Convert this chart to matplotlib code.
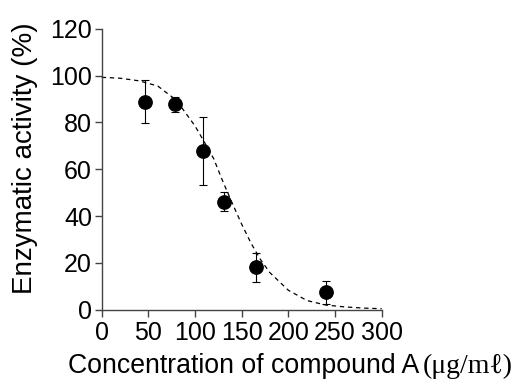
"""
Dose-response plot: enzymatic activity vs. concentration of compound A
"""
import matplotlib
matplotlib.use('Agg')
import matplotlib.pyplot as plt

# measured points (mean +/- error)
conc = [46, 79, 108, 131, 165, 240]
activity = [88.8, 87.8, 67.8, 46.2, 18.1, 7.4]
error = [9.2, 3.2, 14.5, 4.1, 6.1, 4.8]

# fitted curve
fit_conc = [0, 20, 40, 60, 80, 100, 110, 120, 130, 140, 150, 160, 170,
            180, 200, 220, 240, 260, 280, 300]
fit_activity = [99.3, 98.9, 97.8, 95.6, 89.5, 78.5, 71.6, 64.5, 54.6, 45.4,
                36.5, 28.4, 21.5, 15.9, 8.3, 3.9, 2.0, 1.2, 0.7, 0.4]

x_ticks = [0, 50, 100, 150, 200, 250, 300]
y_ticks = [0, 20, 40, 60, 80, 100, 120]

tick_font = ['Liberation Sans Narrow', 'Liberation Sans', 'DejaVu Sans']
label_font = ['Liberation Sans', 'DejaVu Sans']
unit_font = ['Liberation Serif', 'DejaVu Serif']

fig = plt.figure(figsize=(5.15, 3.8), dpi=100)
ax = fig.add_axes([0.1975, 0.185, 0.5437, 0.739])

ax.plot(fit_conc, fit_activity, color='black', lw=0.9,
        linestyle=(0, (3.5, 3)), clip_on=False)
ax.errorbar(conc, activity, yerr=error, fmt='o', color='black',
            markersize=9.6, elinewidth=0.8, capsize=3.2, capthick=0.8,
            clip_on=False, zorder=3)

ax.set_xlim(0, 300)
ax.set_ylim(0, 120)
ax.set_xticks(x_ticks)
ax.set_yticks(y_ticks)
for side in ['top', 'right']:
    ax.spines[side].set_visible(False)
for side in ['left', 'bottom']:
    ax.spines[side].set_color('#444444')
    ax.spines[side].set_linewidth(1.0)
ax.tick_params(axis='both', direction='out', length=5, width=1.0,
               color='#444444')
ax.tick_params(axis='y', pad=2)
ax.tick_params(axis='x', pad=3)
for lbl in ax.get_xticklabels() + ax.get_yticklabels():
    lbl.set_family(tick_font)
    lbl.set_fontsize(18)

fig.text(0.0485, 0.584, 'Enzymatic activity (%)', rotation=90,
         ha='center', va='center', fontsize=20, family=label_font)
fig.text(419 / 515, 0.018, 'Concentration of compound A', ha='right',
         va='baseline', fontsize=19.2, family=label_font)
fig.text(423 / 515, 0.018, '(\u03bcg/m\u2113)', ha='left', va='baseline',
         fontsize=20, family=unit_font)

plt.savefig('out.png', dpi=100)
plt.close()
